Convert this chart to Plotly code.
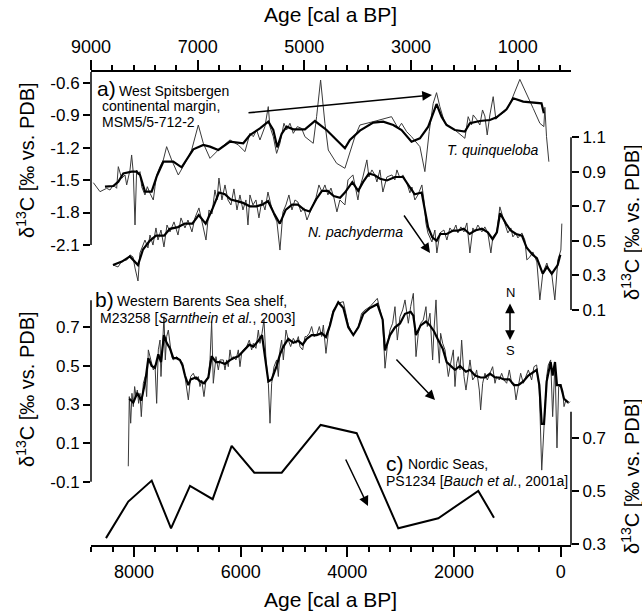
import plotly.graph_objects as go

# ---------------- data ----------------
# Panel a: T. quinqueloba (raw and smoothed), age on top axis [cal a BP]
tq_age = [8956, 8831, 8706, 8644, 8581, 8519, 8488, 8425, 8363, 8331, 8269, 8238, 8206, 8175, 8144,
          8113, 8081, 8050, 7988, 7944, 7894, 7832, 7800, 7769, 7707, 7644, 7582, 7488, 7363, 7238,
          7113, 6988, 6894, 6769, 6613, 6394, 6238, 6113, 6020, 5957, 5895, 5832, 5739, 5676, 5645,
          5582, 5520, 5457, 5382, 5332, 5270, 5207, 5132, 5051, 4989, 4833, 4770, 4695, 4614, 4551,
          4395, 4239, 4052, 3958, 3708, 3365, 3240, 3177, 3083, 2990, 2833, 2740, 2659, 2584, 2521,
          2459, 2365, 2177, 1990, 1928, 1865, 1834, 1771, 1709, 1659, 1615, 1571, 1521, 1459, 1409,
          1334, 1240, 1178, 1115, 959, 834, 709, 584, 509, 490, 459, 415]
tq_val = [-1.524, -1.607, -1.576, -1.592, -1.545, -1.576, -1.376, -1.484, -1.453, -1.545, -1.407, -1.268,
          -1.438, -1.915, -1.407, -1.453, -1.422, -1.561, -1.638, -1.561, -1.622, -1.684, -1.561, -1.453,
          -1.376, -1.314, -1.191, -1.314, -1.453, -1.345, -1.222, -0.991, -1.160, -1.299, -1.222, -1.129,
          -1.176, -1.237, -1.068, -1.099, -1.037, -1.129, -1.006, -0.821, -1.006, -1.099, -1.253, -1.160,
          -0.975, -1.037, -0.975, -1.068, -1.006, -1.022, -1.099, -1.160, -0.914, -0.575, -0.975, -1.222,
          -1.345, -1.391, -1.099, -0.991, -0.960, -0.914, -1.022, -0.975, -1.052, -1.099, -1.191, -1.422,
          -1.052, -0.791, -0.692, -0.821, -0.975, -1.037, -1.114, -0.914, -0.991, -0.898, -0.938, -0.991,
          -0.852, -0.908, -1.083, -0.898, -0.729, -0.938, -0.898, -0.868, -0.821, -0.760, -0.569, -0.698,
          -0.837, -0.975, -1.006, -0.827, -1.099, -1.330]
tq_smooth_age = [8738, 8581, 8488, 8394, 8238, 8144, 8081, 7988, 7863, 7769, 7644, 7457, 7301, 7082,
                 6894, 6769, 6613, 6394, 6145, 6020, 5832, 5676, 5582, 5507, 5426, 5332, 5207, 4989,
                 4801, 4583, 4239, 4146, 3958, 3708, 3521, 3333, 3177, 2990, 2833, 2677, 2521, 2427,
                 2334, 2177, 1990, 1896, 1709, 1521, 1396, 1209, 1084, 896, 553, 509]
tq_smooth_val = [-1.561, -1.555, -1.515, -1.438, -1.422, -1.422, -1.453, -1.607, -1.607, -1.468, -1.330,
                 -1.330, -1.382, -1.216, -1.176, -1.191, -1.222, -1.145, -1.160, -1.083, -1.022, -0.960,
                 -1.037, -1.197, -1.074, -1.006, -1.031, -1.031, -0.954, -1.037, -1.206, -1.129, -1.043,
                 -0.969, -0.960, -0.991, -1.037, -1.145, -1.114, -1.006, -0.797, -0.914, -0.991, -1.037,
                 -1.052, -0.975, -0.954, -0.945, -0.920, -0.846, -0.744, -0.775, -0.791, -0.883]

# Panel a: N. pachyderma (raw and smoothed)
np_age = [8588, 8494, 8419, 8325, 8269, 8213, 8175, 8119, 8082, 8025, 7988, 7932, 7894, 7838, 7782,
          7744, 7688, 7632, 7575, 7519, 7444, 7369, 7313, 7238, 7182, 7107, 7051, 6976, 6901, 6844,
          6788, 6732, 6676, 6638, 6601, 6545, 6488, 6432, 6376, 6320, 6263, 6207, 6151, 6095, 6057,
          6020, 5963, 5907, 5851, 5795, 5738, 5682, 5626, 5570, 5514, 5457, 5401, 5345, 5289, 5232,
          5176, 5120, 5064, 5008, 4951, 4895, 4839, 4783, 4726, 4670, 4614, 4558, 4501, 4445, 4389,
          4333, 4239, 4182, 4089, 3995, 3958, 3902, 3827, 3789, 3733, 3677, 3639, 3583, 3527, 3452,
          3358, 3302, 3264, 3208, 3152, 3077, 3021, 2983, 2927, 2871, 2796, 2758, 2721, 2683, 2608,
          2552, 2515, 2458, 2383, 2327, 2271, 2215, 2158, 2121, 2065, 2008, 1952, 1896, 1840, 1802,
          1746, 1671, 1615, 1559, 1502, 1465, 1390, 1334, 1277, 1221, 1184, 1127, 1090, 1034, 996,
          921, 865, 828, 771, 715, 640, 584, 528, 453, 415, 359, 303, 246, 190, 172]
np_val = [0.361, 0.349, 0.384, 0.390, 0.419, 0.407, 0.343, 0.268, 0.430, 0.476, 0.505, 0.459, 0.534,
          0.476, 0.575, 0.505, 0.563, 0.465, 0.592, 0.552, 0.610, 0.534, 0.633, 0.575, 0.621, 0.552,
          0.633, 0.691, 0.592, 0.505, 0.679, 0.656, 0.795, 0.737, 0.864, 0.737, 0.824, 0.737, 0.708,
          0.801, 0.679, 0.766, 0.679, 0.737, 0.592, 0.766, 0.708, 0.737, 0.633, 0.737, 0.679, 0.783,
          0.708, 0.650, 0.610, 0.447, 0.668, 0.708, 0.766, 0.679, 0.737, 0.725, 0.668, 0.691, 0.621,
          0.668, 0.708, 0.749, 0.824, 0.783, 0.824, 0.766, 0.806, 0.749, 0.668, 0.737, 0.708, 0.853,
          0.882, 0.737, 0.812, 0.870, 0.969, 0.870, 0.911, 0.882, 0.841, 0.911, 0.783, 0.870, 0.882,
          0.853, 0.911, 0.864, 0.882, 0.835, 0.778, 0.812, 0.737, 0.766, 0.824, 0.737, 0.604, 0.546,
          0.494, 0.563, 0.430, 0.546, 0.563, 0.505, 0.575, 0.552, 0.592, 0.546, 0.581, 0.552, 0.604,
          0.430, 0.575, 0.552, 0.592, 0.552, 0.581, 0.546, 0.430, 0.523, 0.552, 0.697, 0.633, 0.581,
          0.546, 0.575, 0.523, 0.546, 0.517, 0.546, 0.505, 0.390, 0.407, 0.436, 0.378, 0.158, 0.314,
          0.372, 0.332, 0.303, 0.158, 0.390, 0.447, 0.600]
np_smooth_age = [8588, 8420, 8270, 8120, 8025, 7900, 7780, 7630, 7520, 7370, 7240, 7100, 6980, 6850,
                 6730, 6600, 6490, 6380, 6260, 6150, 6020, 5900, 5790, 5680, 5570, 5460, 5350, 5230,
                 5120, 5000, 4900, 4780, 4670, 4560, 4450, 4330, 4240, 4100, 3990, 3900, 3790, 3680,
                 3580, 3450, 3300, 3150, 3020, 2930, 2800, 2720, 2680, 2600, 2520, 2450, 2330, 2210,
                 2120, 2010, 1900, 1800, 1670, 1560, 1470, 1390, 1330, 1220, 1130, 1030, 920, 830,
                 720, 640, 530, 450, 360, 250, 200]
np_smooth_val = [0.36, 0.38, 0.41, 0.36, 0.45, 0.50, 0.53, 0.53, 0.57, 0.58, 0.60, 0.60, 0.65, 0.60,
                 0.68, 0.78, 0.77, 0.74, 0.73, 0.72, 0.70, 0.70, 0.71, 0.73, 0.66, 0.60, 0.68, 0.71,
                 0.71, 0.68, 0.67, 0.74, 0.79, 0.79, 0.76, 0.75, 0.78, 0.84, 0.79, 0.84, 0.89, 0.88,
                 0.86, 0.85, 0.87, 0.87, 0.81, 0.77, 0.78, 0.66, 0.58, 0.52, 0.50, 0.54, 0.54, 0.56,
                 0.56, 0.57, 0.54, 0.56, 0.57, 0.55, 0.51, 0.55, 0.66, 0.60, 0.56, 0.54, 0.53, 0.46,
                 0.42, 0.40, 0.31, 0.35, 0.31, 0.36, 0.42]

# Panel b: M23258 (raw and smoothed), age on bottom axis
b_age = [8107, 8088, 8062, 8038, 8013, 7988, 7962, 7938, 7913, 7888, 7863, 7825, 7788, 7763, 7731,
         7669, 7638, 7606, 7575, 7544, 7512, 7494, 7462, 7438, 7413, 7388, 7356, 7325, 7294, 7263,
         7200, 7138, 7088, 7044, 6981, 6938, 6888, 6838, 6794, 6763, 6731, 6688, 6650, 6606, 6575,
         6544, 6513, 6463, 6419, 6388, 6325, 6294, 6263, 6232, 6200, 6169, 6138, 6088, 6044, 6013,
         5982, 5950, 5888, 5838, 5794, 5763, 5713, 5669, 5638, 5600, 5563, 5525, 5481, 5450, 5419,
         5375, 5325, 5294, 5263, 5232, 5200, 5150, 5107, 5063, 5013, 4963, 4919, 4888, 4838, 4794,
         4763, 4713, 4669, 4626, 4575, 4525, 4482, 4450, 4401, 4357, 4326, 4263, 4170, 4075, 3982,
         3888, 3794, 3732, 3669, 3575, 3513, 3438, 3388, 3338, 3294, 3251, 3201, 3151, 3107, 3063,
         3013, 2963, 2919, 2857, 2813, 2763, 2713, 2670, 2626, 2576, 2526, 2501, 2451, 2401, 2376,
         2338, 2307, 2276, 2251, 2213, 2169, 2138, 2107, 2063, 2013, 1982, 1951, 1920, 1888, 1857,
         1813, 1776, 1732, 1701, 1651, 1607, 1576, 1526, 1501, 1463, 1420, 1376, 1326, 1276, 1232,
         1201, 1151, 1107, 1063, 1013, 963, 920, 876, 838, 795, 751, 701, 651, 607, 545, 501, 451,
         401, 356, 313, 263, 232, 188, 151, 107, 70, 38, 1, -37, -62, -99, -143, -174]
b_val = [-0.020, 0.341, 0.203, 0.358, 0.289, 0.393, 0.341, 0.375, 0.306, 0.358, 0.237, 0.410, 0.445,
         0.341, 0.583, 0.514, 0.479, 0.505, 0.306, 0.583, 0.634, 0.445, 0.600, 0.755, 0.531, 0.652,
         0.686, 0.600, 0.548, 0.531, 0.548, 0.531, 0.514, 0.445, 0.324, 0.445, 0.462, 0.427, 0.445,
         0.393, 0.427, 0.341, 0.427, 0.445, 0.531, 0.729, 0.410, 0.548, 0.479, 0.531, 0.531, 0.479,
         0.531, 0.496, 0.583, 0.531, 0.548, 0.531, 0.583, 0.496, 0.565, 0.583, 0.600, 0.634, 0.583,
         0.617, 0.591, 0.686, 0.617, 0.669, 0.738, 0.531, 0.410, 0.203, 0.410, 0.496, 0.531, 0.445,
         0.583, 0.634, 0.531, 0.686, 0.634, 0.600, 0.643, 0.617, 0.652, 0.600, 0.583, 0.652, 0.652,
         0.669, 0.704, 0.652, 0.660, 0.704, 0.652, 0.712, 0.565, 0.669, 0.721, 0.790, 0.825, 0.833,
         0.712, 0.660, 0.704, 0.773, 0.790, 0.807, 0.824, 0.850, 0.790, 0.738, 0.488, 0.600, 0.686,
         0.721, 0.807, 0.634, 0.755, 0.790, 0.842, 0.721, 0.807, 0.876, 0.548, 0.669, 0.721, 0.738,
         0.807, 0.704, 0.773, 0.531, 0.686, 0.842, 0.634, 0.514, 0.669, 0.617, 0.583, 0.514, 0.445,
         0.514, 0.583, 0.393, 0.514, 0.548, 0.479, 0.634, 0.445, 0.375, 0.479, 0.531, 0.427, 0.445,
         0.479, 0.375, 0.272, 0.410, 0.462, 0.427, 0.462, 0.496, 0.410, 0.445, 0.427, 0.462, 0.427,
         0.410, 0.479, 0.410, 0.410, 0.324, 0.393, 0.462, 0.410, 0.445, 0.479, 0.427, 0.496, 0.505,
         0.375, -0.040, 0.185, 0.445, 0.505, 0.531, 0.237, 0.514, 0.075, 0.393, 0.393, 0.375, 0.289,
         0.324, 0.306, 0.315]
b_smooth_age = [8088, 8013, 7938, 7863, 7788, 7731, 7669, 7606, 7544, 7494, 7438, 7388, 7325, 7263,
                7200, 7138, 7088, 7044, 6981, 6938, 6838, 6763, 6688, 6606, 6544, 6463, 6388, 6294,
                6200, 6138, 6044, 5950, 5838, 5763, 5669, 5600, 5525, 5481, 5419, 5325, 5263, 5200,
                5107, 5013, 4919, 4838, 4763, 4669, 4575, 4482, 4401, 4326, 4263, 4170, 4075, 3982,
                3888, 3794, 3700, 3575, 3438, 3338, 3294, 3201, 3107, 3013, 2919, 2813, 2763, 2713,
                2626, 2526, 2451, 2376, 2307, 2213, 2138, 2063, 1982, 1888, 1776, 1701, 1607, 1501,
                1420, 1326, 1232, 1151, 1063, 963, 876, 795, 701, 607, 501, 451, 401, 356, 313, 263,
                188, 151, 107, 70, 1, -62, -143]
b_smooth_val = [0.33, 0.31, 0.36, 0.32, 0.42, 0.54, 0.50, 0.49, 0.56, 0.52, 0.66, 0.62, 0.59, 0.54,
                0.54, 0.53, 0.50, 0.45, 0.40, 0.43, 0.44, 0.42, 0.41, 0.44, 0.55, 0.52, 0.52, 0.51,
                0.53, 0.54, 0.55, 0.58, 0.61, 0.60, 0.63, 0.66, 0.52, 0.42, 0.43, 0.50, 0.56, 0.60,
                0.64, 0.62, 0.63, 0.61, 0.64, 0.66, 0.66, 0.67, 0.65, 0.71, 0.78, 0.83, 0.80, 0.70,
                0.66, 0.70, 0.77, 0.80, 0.82, 0.74, 0.58, 0.66, 0.70, 0.72, 0.77, 0.78, 0.76, 0.66,
                0.71, 0.73, 0.71, 0.68, 0.64, 0.59, 0.52, 0.50, 0.48, 0.50, 0.47, 0.48, 0.45, 0.44,
                0.44, 0.46, 0.44, 0.44, 0.43, 0.43, 0.40, 0.40, 0.42, 0.45, 0.47, 0.48, 0.40, 0.20,
                0.20, 0.42, 0.52, 0.45, 0.52, 0.40, 0.40, 0.33, 0.31]

# Panel c: PS1234
c_age = [8525, 8107, 7668, 7306, 6950, 6525, 6169, 5744, 5231, 4500, 3825, 3045, 2295, 1545, 1251]
c_val = [0.323, 0.461, 0.540, 0.360, 0.520, 0.470, 0.671, 0.570, 0.570, 0.750, 0.719, 0.360, 0.398,
         0.501, 0.400]

# axis tick values
ya_ticks = [-0.6, -0.9, -1.2, -1.5, -1.8, -2.1]
ya2_ticks = [1.1, 0.9, 0.7, 0.5, 0.3, 0.1]
yb_ticks = [0.7, 0.5, 0.3, 0.1, -0.1]
yc_ticks = [0.7, 0.5, 0.3]

FONT = "Arial, Liberation Sans, Helvetica, sans-serif"
THIN = dict(color="#3a3a3a", width=1)
THICK = dict(color="black", width=2.2)

fig = go.Figure()
fig.add_trace(go.Scatter(x=tq_age, y=tq_val, xaxis="x2", yaxis="y", mode="lines", line=THIN))
fig.add_trace(go.Scatter(x=tq_smooth_age, y=tq_smooth_val, xaxis="x2", yaxis="y", mode="lines", line=THICK))
fig.add_trace(go.Scatter(x=np_age, y=np_val, xaxis="x2", yaxis="y2", mode="lines", line=THIN))
fig.add_trace(go.Scatter(x=np_smooth_age, y=np_smooth_val, xaxis="x2", yaxis="y2", mode="lines", line=THICK))
fig.add_trace(go.Scatter(x=b_age, y=b_val, xaxis="x", yaxis="y3", mode="lines", line=THIN))
fig.add_trace(go.Scatter(x=b_smooth_age, y=b_smooth_val, xaxis="x", yaxis="y3", mode="lines", line=THICK))
fig.add_trace(go.Scatter(x=c_age, y=c_val, xaxis="x", yaxis="y4", mode="lines",
                         line=dict(color="black", width=2)))

yax_common = dict(showgrid=False, zeroline=False, showline=False, ticks="outside", ticklen=7,
                  tickwidth=1.5, tickcolor="black", tickfont=dict(size=17, color="black", family=FONT),
                  domain=[0, 1], tickmode="array")
xax_common = dict(showgrid=False, zeroline=False, showline=True, linecolor="black", linewidth=1.5,
                  ticks="outside", ticklen=10, tickwidth=1.5, tickcolor="black",
                  tickfont=dict(size=18, color="black", family=FONT), tickmode="linear", dtick=2000,
                  domain=[0, 1])

fig.update_layout(
    width=642, height=616,
    margin=dict(l=91, r=71, t=72, b=71),
    paper_bgcolor="white", plot_bgcolor="rgba(0,0,0,0)",
    showlegend=False,
    font=dict(family=FONT, color="black"),
    xaxis=dict(range=[8806, -193], tick0=0, side="bottom", anchor="y3",
               minor=dict(ticks="outside", ticklen=5, tickwidth=1.5, tickcolor="black",
                          tickmode="linear", tick0=0, dtick=400, showgrid=False),
               **xax_common),
    xaxis2=dict(range=[9000, 0], side="top", anchor="y", tick0=1000,
                minor=dict(ticks="outside", ticklen=5, tickwidth=1.5, tickcolor="black",
                           tickmode="linear", tick0=1000, dtick=400, showgrid=False),
                **xax_common),
    yaxis=dict(range=[-4.873, -0.501], side="left", anchor="x2", tickvals=ya_ticks,
               ticktext=["%.1f" % v for v in ya_ticks], **yax_common),
    yaxis2=dict(range=[-1.261, 1.478], side="right", anchor="x2",
                tickvals=ya2_ticks, ticktext=["%.1f" % v for v in ya2_ticks], **yax_common),
    yaxis3=dict(range=[-0.428, 2.023], side="left", anchor="x",
                tickvals=yb_ticks, ticktext=["%.1f" % v for v in yb_ticks], **yax_common),
    yaxis4=dict(range=[0.297, 2.082], side="right", anchor="x",
                tickvals=yc_ticks, ticktext=["%.1f" % v for v in yc_ticks], **yax_common),
)

# partial vertical axis lines
axline = dict(color="black", width=1.5)
fig.add_shape(type="line", xref="paper", yref="y", x0=0, x1=0, y0=-2.1, y1=-0.501, line=axline)
fig.add_shape(type="line", xref="paper", yref="y2", x0=1, x1=1, y0=0.1, y1=1.1, line=axline)
fig.add_shape(type="line", xref="paper", yref="y3", x0=0, x1=0, y0=-0.1, y1=0.84, line=axline)
fig.add_shape(type="line", xref="paper", yref="y4", x0=1, x1=1, y0=0.297, y1=0.8, line=axline)


def px(ox):
    return (ox - 91) / 480.0


def py(oy):
    return (545 - oy) / 473.0


def txt(ox, oy, s, size=14, xanchor="left", angle=0):
    fig.add_annotation(x=px(ox), y=py(oy), xref="paper", yref="paper", text=s, showarrow=False,
                       xanchor=xanchor, yanchor="middle", textangle=angle,
                       font=dict(size=size, color="black", family=FONT))


# axis titles
ytitle = "δ<sup>13</sup>C [‰ vs. PDB]"
txt(330, 15, "Age [cal a BP]", size=21, xanchor="center")
txt(330, 599, "Age [cal a BP]", size=21, xanchor="center")
txt(25, 160, ytitle, size=20, xanchor="center", angle=-90)
txt(25, 389, ytitle, size=20, xanchor="center", angle=-90)
txt(630, 222, ytitle, size=20, xanchor="center", angle=-90)
txt(630, 476, ytitle, size=20, xanchor="center", angle=-90)

# panel labels
txt(95, 88, "a)", size=21)
txt(117, 91, "West Spitsbergen")
txt(100, 106, "continental margin,")
txt(100, 122, "MSM5/5-712-2")
txt(445, 150, "<i>T. quinqueloba</i>")
txt(306, 232, "<i>N. pachyderma</i>")
txt(93, 299, "b)", size=21)
txt(115, 301, "Western Barents Sea shelf,")
txt(98, 318, "M23258 [<i>Sarnthein et al.</i>, 2003]")
txt(384, 463, "c)", size=21)
txt(406, 464, "Nordic Seas,")
txt(384, 481, "PS1234 [<i>Bauch et al.</i>, 2001a]")
txt(510, 292, "N", size=13, xanchor="center")
txt(510, 350, "S", size=13, xanchor="center")


def arrow(x0, y0, x1, y1, both=False):
    fig.add_annotation(x=px(x1), y=py(y1), xref="paper", yref="paper", text="",
                       showarrow=True, ax=x0 - x1, ay=y0 - y1, axref="pixel", ayref="pixel",
                       arrowhead=2, arrowsize=1.3, arrowwidth=1.5, arrowcolor="black",
                       arrowside="end+start" if both else "end", standoff=0, startstandoff=0)


arrow(247, 113, 432, 95)
arrow(403, 214, 430, 253)
arrow(395, 358, 435, 400)
arrow(345, 458, 368, 506)
arrow(510, 302, 510, 340, both=True)

fig.write_html("out.html")
